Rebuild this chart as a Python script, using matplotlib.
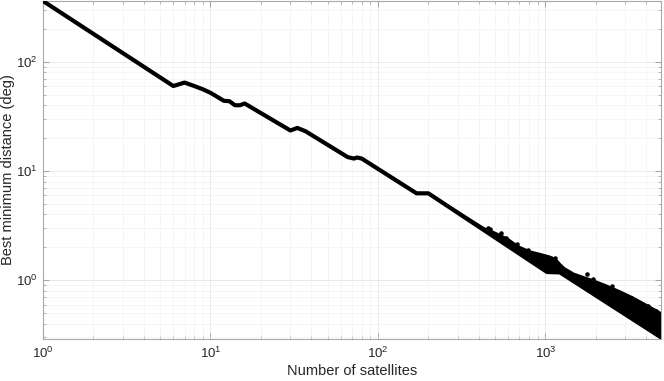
import matplotlib.pyplot as plt
import numpy as np

plt.rcParams['font.family'] = ['Liberation Sans', 'DejaVu Sans']
plt.rcParams['mathtext.fontset'] = 'custom'
plt.rcParams['mathtext.rm'] = 'Liberation Sans'

# Main curve (best min distance vs number of satellites)
curve_n = [1, 6, 7, 8, 9, 10, 12, 13, 14, 15, 16, 30, 33, 37, 66, 72, 75, 80,
           170, 200, 1023, 1221, 4900]
curve_d = [360, 60, 64.5, 60, 56, 52, 44, 43.5, 40, 40, 41.5, 23.5, 24.8, 23.1,
           13.4, 13.0, 13.3, 13.0, 6.25, 6.25, 1.19, 1.18, 0.30]

# Upper edge of the scattered band for large N
band_n = [430, 470, 535, 600, 686, 808, 933, 1060, 1147, 1228, 1300, 1477,
          1750, 1928, 2300, 2800, 3306, 3900, 4500, 4900]
band_hi = [3.0, 2.85, 2.6, 2.38, 2.05, 1.84, 1.74, 1.65, 1.57, 1.40, 1.29, 1.15,
           1.05, 1.0, 0.9, 0.79, 0.70, 0.61, 0.54, 0.50]

# Isolated points above the band
out_n = [455, 470, 543, 585, 677, 790, 1147, 1760, 1928, 2500, 2830, 3260, 4110, 4604]
out_d = [2.99, 2.94, 2.68, 2.45, 2.13, 1.89, 1.60, 1.13, 1.02, 0.88, 0.74, 0.69, 0.58, 0.52]

fig = plt.figure(figsize=(6.64, 3.81), dpi=100)
ax = fig.add_axes([43 / 664, 42 / 381, 618 / 664, 338 / 381])

# band polygon: upper edge then back along the main curve
tail = [i for i, n in enumerate(curve_n) if n >= 200][::-1]
poly_x = band_n + [curve_n[i] for i in tail]
poly_y = band_hi + [curve_d[i] for i in tail]
ax.fill(poly_x, poly_y, color='black', lw=1.5, zorder=3)

ax.plot(curve_n, curve_d, color='black', lw=3, solid_capstyle='round',
        solid_joinstyle='round', zorder=4)
ax.plot(out_n, out_d, 'k.', ms=4.5, zorder=4)

ax.set_xscale('log')
ax.set_yscale('log')
ax.set_xlim(1, 4900)
ax.set_ylim(0.29, 360)

ax.grid(True, which='major', color='#e6e6e6', lw=0.6)
ax.grid(True, which='minor', color='#f2f2f2', lw=0.5)
ax.set_axisbelow(True)

for s in ax.spines.values():
    s.set_color('#a8a8a8')
    s.set_linewidth(0.8)
ax.tick_params(which='both', direction='in', top=True, right=True,
               color='#a8a8a8', labelcolor='#262626', labelsize=9.5)
ax.tick_params(which='major', length=4, pad=5)
ax.tick_params(axis='y', which='major', pad=4)
ax.tick_params(which='minor', length=2)

ax.set_xlabel('Number of satellites', fontsize=10.5, color='#262626', labelpad=2)
ax.set_ylabel('Best minimum distance (deg)', fontsize=10.5, color='#262626')
ax.yaxis.set_label_coords(-0.057, 0.5)
ax.yaxis.label.set_verticalalignment('center')

fig.savefig('out.png', dpi=100)
